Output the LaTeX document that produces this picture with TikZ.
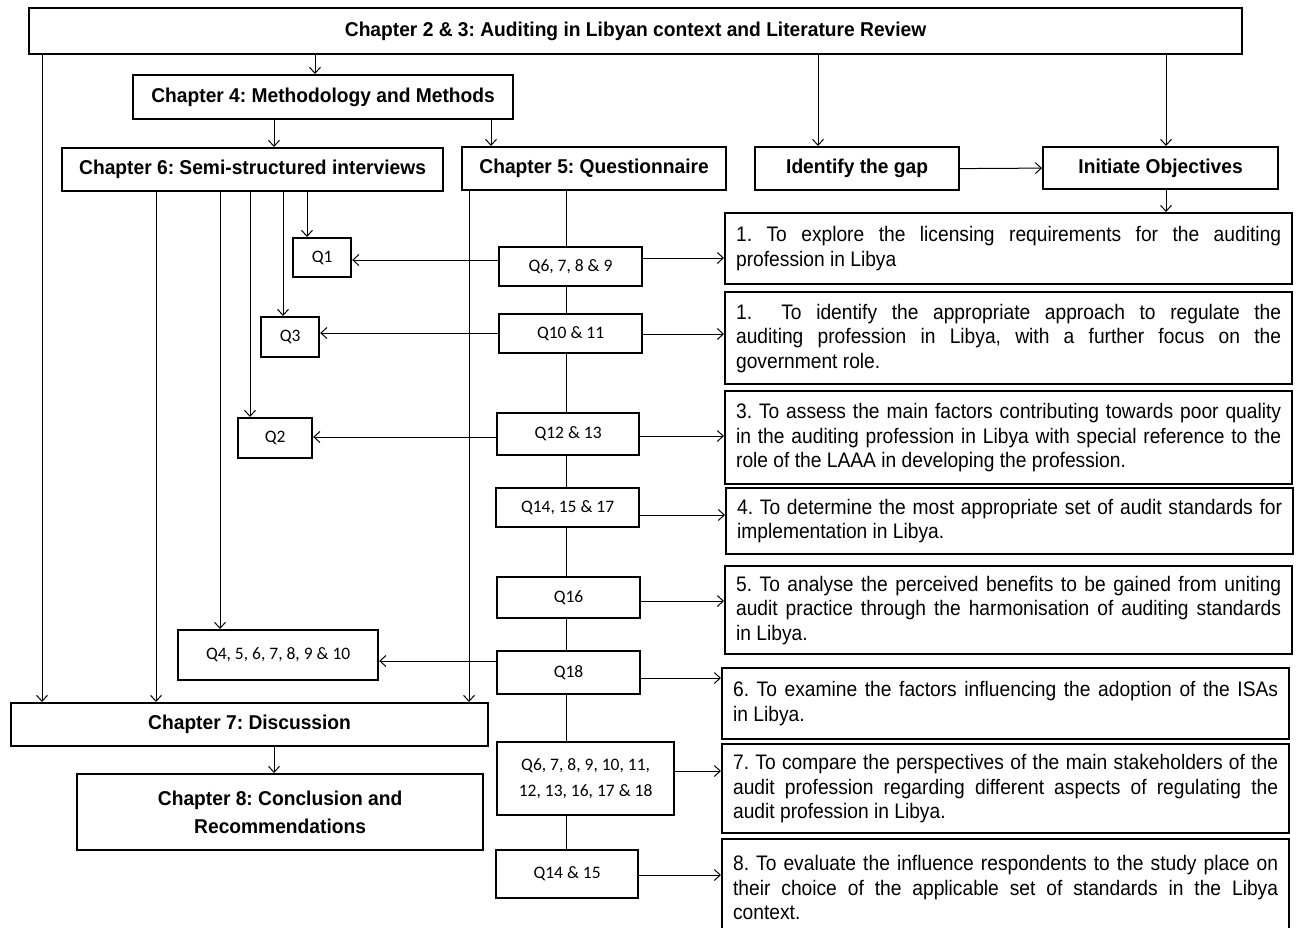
\documentclass[tikz,border=0pt]{standalone}
\usepackage{fontspec}
\usetikzlibrary{arrows.meta}
\newfontfamily\narrowfont[FakeStretch=0.96]{Liberation Sans}
\newfontfamily\objfont[FakeStretch=0.915]{Liberation Sans}
\newfontfamily\calfont{Carlito}
\hyphenpenalty=10000
\exhyphenpenalty=10000
\frenchspacing

\tikzset{
    chapbox/.style={draw, line width=2.2pt, anchor=north west, inner sep=0pt, align=center,
        font=\narrowfont\bfseries\fontsize{20}{28}\selectfont},
    qbox/.style={draw, line width=2.2pt, anchor=north west, inner sep=0pt, align=center,
        font=\calfont\fontsize{17.5}{26}\selectfont},
    objbox/.style={draw, line width=2.2pt, anchor=north west, inner xsep=11pt, inner ysep=0pt,
        text width=545pt, align=justify, font=\objfont\fontsize{21}{24.5}\selectfont},
    link/.style={line width=1pt},
    arr/.style={link, -{Straight Barb[length=6pt,width=11pt]}},
}

\begin{document}
\begin{tikzpicture}[x=1pt, y=-1pt]
    \path[use as bounding box, fill=white] (0,0) rectangle (1299,927);

    % Chapter boxes
    \node[chapbox, minimum width=1213pt, minimum height=46pt] (top) at (28,7) {Chapter 2 \& 3: Auditing in Libyan context and Literature Review};
    \node[chapbox, minimum width=380pt, minimum height=44pt] (ch4) at (132,74) {Chapter 4: Methodology and Methods};
    \node[chapbox, minimum width=381pt, minimum height=43pt] (ch6) at (61,147) {Chapter 6: Semi-structured interviews};
    \node[chapbox, minimum width=264pt, minimum height=43pt] (ch5) at (461,146) {Chapter 5: Questionnaire};
    \node[chapbox, minimum width=204pt, minimum height=43pt] (gap) at (754,146) {Identify the gap};
    \node[chapbox, minimum width=235pt, minimum height=42pt] (init) at (1042,146) {Initiate Objectives};
    \node[chapbox, minimum width=477pt, minimum height=43pt] (ch7) at (10,702) {Chapter 7: Discussion};
    \node[chapbox, minimum width=406pt, minimum height=76pt] (ch8) at (76,773) {Chapter 8: Conclusion and\\Recommendations};

    % Interview questions
    \node[qbox, minimum width=58pt, minimum height=39pt] (q1) at (292,237) {Q1};
    \node[qbox, minimum width=58pt, minimum height=40pt] (q3) at (260,316) {Q3};
    \node[qbox, minimum width=74pt, minimum height=40pt] (q2) at (237,417) {Q2};
    \node[qbox, minimum width=200pt, minimum height=50pt] (q4) at (177,629) {Q4, 5, 6, 7, 8, 9 \& 10};

    % Questionnaire questions
    \node[qbox, minimum width=143pt, minimum height=39pt] (q69) at (498,246) {Q6, 7, 8 \& 9};
    \node[qbox, minimum width=143pt, minimum height=39pt] (q1011) at (498,313) {Q10 \& 11};
    \node[qbox, minimum width=142pt, minimum height=42pt] (q1213) at (496,412) {Q12 \& 13};
    \node[qbox, minimum width=143pt, minimum height=39pt] (q141517) at (495,487) {Q14, 15 \& 17};
    \node[qbox, minimum width=143pt, minimum height=41pt] (q16) at (496,576) {Q16};
    \node[qbox, minimum width=143pt, minimum height=43pt] (q18) at (496,650) {Q18};
    \node[qbox, minimum width=177pt, minimum height=73pt] (q618) at (496,741) {Q6, 7, 8, 9, 10, 11,\\12, 13, 16, 17 \& 18};
    \node[qbox, minimum width=142pt, minimum height=48pt] (q1415) at (495,849) {Q14 \& 15};

    % Objectives
    \node[objbox, minimum height=71pt] (obj1) at (724,212) {1. To explore the licensing requirements for the auditing\linebreak profession in Libya};
    \node[objbox, minimum height=92pt] (obj2) at (724,291) {1.\ \ To identify the appropriate approach to regulate the\linebreak auditing profession in Libya, with a further focus on the\linebreak government role.};
    \node[objbox, minimum height=93pt] (obj3) at (724,390) {3. To assess the main factors contributing towards poor quality\linebreak in the auditing profession in Libya with special reference to the\linebreak role of the LAAA in developing the profession.};
    \node[objbox, minimum height=66pt] (obj4) at (725,487) {4. To determine the most appropriate set of audit standards for\linebreak implementation in Libya.};
    \node[objbox, minimum height=88pt] (obj5) at (724,565) {5. To analyse the perceived benefits to be gained from uniting\linebreak audit practice through the harmonisation of auditing standards\linebreak in Libya.};
    \node[objbox, minimum height=71pt] (obj6) at (721,667) {6. To examine the factors influencing the adoption of the ISAs\linebreak in Libya.};
    \node[objbox, minimum height=89pt] (obj7) at (721,743) {7. To compare the perspectives of the main stakeholders of the\linebreak audit profession regarding different aspects of regulating the\linebreak audit profession in Libya.};
    \node[objbox, minimum height=97pt] (obj8) at (721,838) {8. To evaluate the influence respondents to the study place on\linebreak their choice of the applicable set of standards in the Libya\linebreak context.};

    % Arrows from the literature review
    \foreach \xx/\b in {42/ch7, 315/ch4, 818/gap, 1166/init}
        \draw[arr] (top.south -| \xx,0) -- (\b.north -| \xx,0);
    \draw[arr] (ch4.south -| 274,0) -- (ch6.north -| 274,0);
    \draw[arr] (ch4.south -| 491,0) -- (ch5.north -| 491,0);
    \draw[arr] (gap.east) -- (init.west);
    \draw[arr] (init.south -| 1166,0) -- (obj1.north -| 1166,0);

    % Interviews
    \foreach \xx/\b in {156/ch7, 220/q4, 250/q2, 283/q3, 307/q1}
        \draw[arr] (ch6.south -| \xx,0) -- (\b.north -| \xx,0);

    % Questionnaire spine
    \draw[arr] (ch5.south -| 469,0) -- (ch7.north -| 469,0);
    \foreach \a/\b in {ch5/q69, q69/q1011, q1011/q1213, q1213/q141517, q141517/q16, q16/q18, q18/q618, q618/q1415}
        \draw[link] (\a.south -| 566,0) -- (\b.north -| 566,0);

    % Questions to interview questions
    \foreach \a/\b/\yy in {q69/q1/260, q1011/q3/333, q1213/q2/437, q18/q4/661}
        \draw[arr] (\a.west |- 0,\yy) -- (\b.east |- 0,\yy);

    % Questions to objectives
    \foreach \a/\b/\yy in {q69/obj1/258, q1011/obj2/334, q1213/obj3/436, q141517/obj4/515, q16/obj5/601, q18/obj6/678, q618/obj7/771, q1415/obj8/875}
        \draw[arr] (\a.east |- 0,\yy) -- (\b.west |- 0,\yy);

    % Discussion to conclusion
    \draw[arr] (ch7.south -| 274,0) -- (ch8.north -| 274,0);
\end{tikzpicture}
\end{document}
